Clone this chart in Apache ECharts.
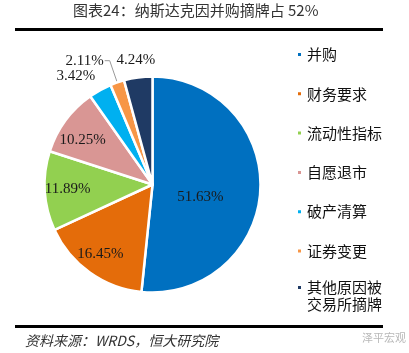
<!DOCTYPE html>
<html lang="zh">
<head>
    <meta charset="UTF-8">
    <title>纳斯达克摘牌原因</title>
    <script src="https://cdn.jsdelivr.net/npm/echarts@6/dist/echarts.min.js"></script>
    <style>
        html, body { margin: 0; padding: 0; background: #fff; }
        #chart1 { width: 409px; height: 353px; }
    </style>
</head>
<body>
<div id="chart1"></div>
<script>
    // 摘牌原因及占比（%）
    var reasons = ['并购', '财务要求', '流动性指标', '自愿退市', '破产清算', '证券变更', '其他原因被交易所摘牌'];
    var shares = [51.63, 16.45, 11.89, 10.25, 3.42, 2.11, 4.24];
    var colors = ['#0070C0', '#E46C0A', '#92D050', '#D99694', '#00B0F0', '#F79646', '#1F3A64'];

    // 标签相对默认位置的偏移
    var labelShift = [[-9, 10], [-19, 23], [-28, 1], [-24, -11], [-49, -59], null, [-9, -68]];

    var pieData = reasons.map(function (name, i) {
        var item = { name: name, value: shares[i], itemStyle: { color: colors[i] } };
        if (i === 5) {
            // 2.11% 用引导线放在外侧
            item.label = { position: 'outside', distanceToLabelLine: 1 };
            item.labelLine = { show: true, length: 23, length2: 5, lineStyle: { color: '#999', width: 1 } };
        }
        return item;
    });

    var legendText = { fontSize: 15, lineHeight: 17, color: '#111', fontFamily: 'Noto Sans CJK SC' };

    var myChart1 = echarts.init(document.getElementById('chart1'));
    myChart1.setOption({
        animation: false,
        title: [{
            text: '图表24：纳斯达克因并购摘牌占 52%',
            left: 73, top: 3, padding: 0,
            textStyle: { fontSize: 15, fontWeight: 'normal', color: '#333', fontFamily: 'Noto Sans CJK SC' }
        }, {
            text: '资料来源：WRDS，恒大研究院',
            left: 25, top: 334, padding: 0,
            textStyle: { fontSize: 14, fontWeight: 'normal', fontStyle: 'italic', color: '#333', fontFamily: 'Noto Sans CJK SC' }
        }, {
            text: '泽平宏观',
            left: 362, top: 332, padding: 0,
            textStyle: { fontSize: 11, fontWeight: 'normal', color: '#b8b8b8', fontFamily: 'Noto Sans CJK SC' }
        }],
        graphic: [
            { type: 'rect', shape: { x: 15, y: 28, width: 368, height: 3 }, style: { fill: '#000' } },
            { type: 'rect', shape: { x: 15, y: 325, width: 368, height: 3 }, style: { fill: '#000' } }
        ],
        legend: [{
            orient: 'vertical',
            left: 291, top: 41,
            itemWidth: 5, itemHeight: 5, itemGap: 22.3,
            icon: 'rect',
            selectedMode: false,
            data: reasons.slice(0, 6),
            textStyle: legendText
        }, {
            // 最后一项两行，图标对齐第一行
            orient: 'vertical',
            left: 291, top: 257,
            itemWidth: 5, itemHeight: 5,
            icon: 'rect',
            selectedMode: false,
            data: reasons.slice(6),
            formatter: function () { return '\n其他原因被\n交易所摘牌'; },
            textStyle: legendText
        }],
        series: [{
            type: 'pie',
            center: [152.5, 184.5],
            radius: 108,
            startAngle: 90,
            clockwise: true,
            avoidLabelOverlap: false,
            itemStyle: { borderColor: '#fff', borderWidth: 2.5 },
            label: {
                position: 'inside',
                formatter: function (p) { return p.value.toFixed(2) + '%'; },
                fontSize: 15,
                color: '#1a1a1a',
                fontFamily: 'Liberation Serif'
            },
            labelLine: { show: false },
            labelLayout: function (p) {
                var s = labelShift[p.dataIndex];
                return s ? { dx: s[0], dy: s[1] } : {};
            },
            data: pieData
        }]
    });
</script>
</body>
</html>
